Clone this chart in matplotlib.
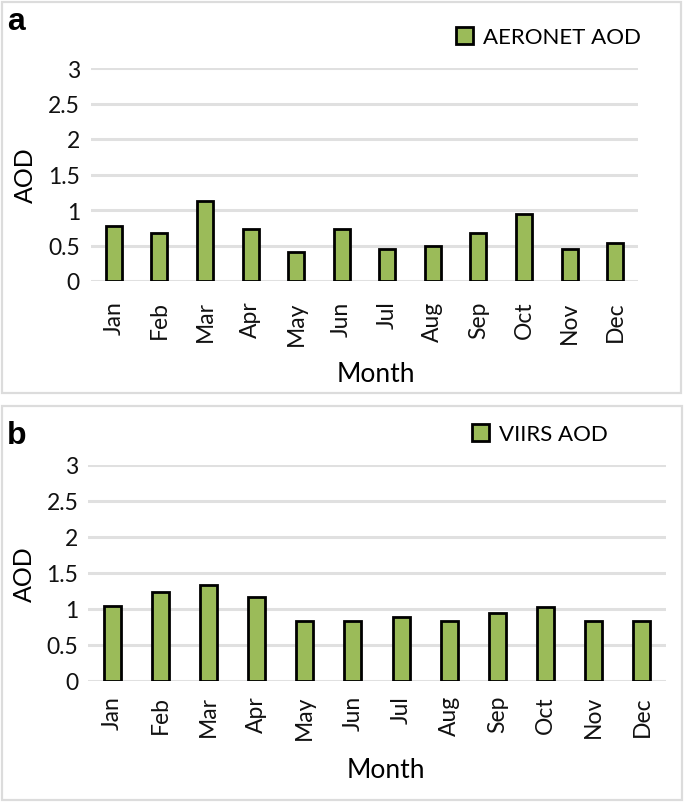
import numpy as np
import matplotlib
matplotlib.use('Agg')
import matplotlib.pyplot as plt
from matplotlib.patches import Rectangle

# Monthly mean AOD
months = ['Jan', 'Feb', 'Mar', 'Apr', 'May', 'Jun',
          'Jul', 'Aug', 'Sep', 'Oct', 'Nov', 'Dec']
aeronet_aod = [0.78, 0.68, 1.13, 0.73, 0.41, 0.73,
               0.45, 0.50, 0.68, 0.94, 0.45, 0.53]
viirs_aod = [1.04, 1.23, 1.34, 1.17, 0.84, 0.84,
             0.89, 0.84, 0.94, 1.03, 0.84, 0.83]
yticks = [0, 0.5, 1, 1.5, 2, 2.5, 3]
ytick_labels = ['0', '0.5', '1', '1.5', '2', '2.5', '3']

W, H = 685, 804
plt.rcParams['font.family'] = ['Lato', 'DejaVu Sans']
fig = plt.figure(figsize=(W / 100, H / 100), dpi=100)
fig.patch.set_facecolor('white')


def px(x, y):
    # pixel (from top-left) -> figure fraction
    return x / W, 1 - y / H


def panel(box, frame, series, label, letter, letter_pos, legend_pos,
          month_pos, aod_pos, xpad, ypad):
    # light grey frame around each panel
    x0, y0, x1, y1 = frame
    fig.patches.append(Rectangle(px(x0, y1), (x1 - x0) / W, (y1 - y0) / H,
                                 transform=fig.transFigure, fill=False,
                                 edgecolor='#dcdcdc', linewidth=1.6))
    left, top, right, bottom = box
    l, b = px(left, bottom)
    ax = fig.add_axes([l, b, (right - left) / W, (bottom - top) / H])
    x = np.arange(len(months))
    bars = ax.bar(x, series, width=0.35, color='#9BBB59', edgecolor='#000000',
                  linewidth=2.0, zorder=3, label=label)
    ax.set_xlim(-0.5, len(months) - 0.5)
    ax.set_ylim(0, 3)
    ax.set_yticks(yticks)
    ax.set_yticklabels(ytick_labels)
    ax.set_xticks(x)
    ax.set_xticklabels(months, rotation=90)
    ax.tick_params(axis='both', length=0, labelsize=16.5, colors='#111111')
    ax.tick_params(axis='x', pad=xpad)
    ax.tick_params(axis='y', pad=ypad)
    for s in ax.spines.values():
        s.set_visible(False)
    ax.grid(axis='y', color='#e0e0e0', linewidth=2.2, zorder=0)
    ax.set_axisbelow(True)

    ax.set_xlabel('Month', fontsize=19, color='#000000', va='center')
    ax.xaxis.set_label_coords(*px(*month_pos), transform=fig.transFigure)
    ax.set_ylabel('AOD', fontsize=18, color='#000000', va='center')
    ax.yaxis.set_label_coords(*px(*aod_pos), transform=fig.transFigure)

    leg = ax.legend(handles=[bars], loc='center left',
                    bbox_to_anchor=px(*legend_pos),
                    bbox_transform=fig.transFigure, frameon=False, fontsize=16,
                    handlelength=0.78, handleheight=0.78, handletextpad=0.45,
                    borderpad=0, borderaxespad=0)
    for t in leg.get_texts():
        t.set_color('#000000')

    fx, fy = px(*letter_pos)
    fig.text(fx, fy, letter, fontsize=23, fontweight='bold',
             family='Liberation Sans', va='baseline', ha='left')
    return ax


panel(box=(91, 69, 638, 282), frame=(2, 3, 681, 394), series=aeronet_aod,
      label='AERONET AOD', letter='a', letter_pos=(7, 30),
      legend_pos=(456, 38), month_pos=(376, 375), aod_pos=(25, 175),
      xpad=14, ypad=8)

panel(box=(88, 466, 666, 682), frame=(2, 407, 682, 801), series=viirs_aod,
      label='VIIRS AOD', letter='b', letter_pos=(7, 444),
      legend_pos=(472, 435), month_pos=(386, 771), aod_pos=(24, 574),
      xpad=10, ypad=7)

fig.savefig('out.png', dpi=100)
